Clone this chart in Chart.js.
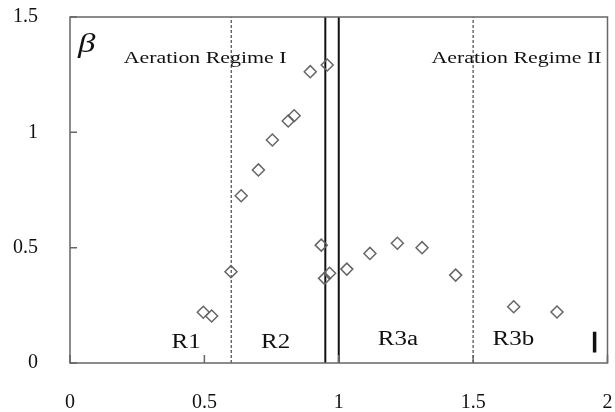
<!DOCTYPE html>
<html>
<head>
<meta charset="utf-8">
<script src="https://cdn.jsdelivr.net/npm/chart.js@4/dist/chart.umd.min.js"></script>
<style>
  html, body { margin: 0; padding: 0; background: #fff; }
  #wrap { width: 615px; height: 412px; }
</style>
</head>
<body>
<div id="wrap"><canvas id="beta_chart"></canvas></div>
<script>
// measured points (x, beta)
const xValues = [0.496, 0.527, 0.599, 0.637, 0.701, 0.753, 0.812, 0.834, 0.894, 0.957,
                 0.935, 0.947, 0.966, 1.030, 1.116, 1.218, 1.310, 1.435, 1.651, 1.812];
const betaValues = [0.220, 0.204, 0.396, 0.725, 0.837, 0.967, 1.049, 1.072, 1.263, 1.292,
                    0.511, 0.367, 0.389, 0.407, 0.475, 0.519, 0.500, 0.381, 0.244, 0.221];

// regime boundaries
const dashedBounds = [0.6, 1.5];
const solidBounds = [0.95, 1.0];

// typical error bar
const errX = 1.952;
const errRange = [0.045, 0.135];

const xTicks = [0, 0.5, 1, 1.5, 2];
const yTicks = [0, 0.5, 1, 1.5];

const regimeNames = ['Aeration Regime I', 'Aeration Regime II'];
const regionNames = ['R1', 'R2', 'R3a', 'R3b'];

const SERIF = '"Liberation Serif", "DejaVu Serif", serif';

const points = xValues.map(function(x, i) { return { x: x, y: betaValues[i] }; });

function vline(x, dashed) {
    return {
        type: 'line',
        data: [{ x: x, y: 0 }, { x: x, y: 1.5 }],
        borderColor: dashed ? '#555' : '#111',
        borderWidth: dashed ? 1.3 : 2,
        borderDash: dashed ? [3, 2] : [],
        pointRadius: 0,
        order: 2
    };
}

const datasets = [{
    type: 'scatter',
    data: points,
    pointStyle: 'rectRot',
    pointRadius: 6,
    borderColor: '#666',
    backgroundColor: 'rgba(0,0,0,0)',
    borderWidth: 1.5,
    order: 1
}];
dashedBounds.forEach(function(b) { datasets.push(vline(b, true)); });
solidBounds.forEach(function(b) { datasets.push(vline(b, false)); });
datasets.push({
    type: 'line',
    data: [{ x: errX, y: errRange[0] }, { x: errX, y: errRange[1] }],
    borderColor: '#111',
    borderWidth: 3.5,
    pointRadius: 0,
    order: 2
});

// frame, inward ticks and the text inside the plot
const framePlugin = {
    id: 'frame',
    afterDatasetsDraw(chart) {
        const ctx = chart.ctx;
        const a = chart.chartArea;
        const xs = chart.scales.x, ys = chart.scales.y;
        ctx.save();
        ctx.strokeStyle = '#666';
        ctx.lineWidth = 1.5;
        ctx.strokeRect(a.left, a.top, a.right - a.left, a.bottom - a.top);
        ctx.beginPath();
        xTicks.forEach(function(t) {
            const px = xs.getPixelForValue(t);
            ctx.moveTo(px, a.bottom);
            ctx.lineTo(px, a.bottom - 8);
        });
        yTicks.forEach(function(t) {
            const py = ys.getPixelForValue(t);
            ctx.moveTo(a.left, py);
            ctx.lineTo(a.left + 7, py);
        });
        ctx.stroke();

        function label(text, x, y, size, italic, align) {
            ctx.save();
            ctx.translate(xs.getPixelForValue(x), ys.getPixelForValue(y));
            ctx.scale(1.25, 1);
            ctx.font = (italic ? 'italic ' : '') + size + 'px ' + SERIF;
            ctx.fillStyle = '#111';
            ctx.textAlign = align;
            ctx.textBaseline = 'alphabetic';
            ctx.fillText(text, 0, 0);
            ctx.restore();
        }
        label('\u03b2', 0.03, 1.348, 28, true, 'left');
        label(regimeNames[0], 0.2, 1.3, 17.5, false, 'left');
        label(regimeNames[1], 1.345, 1.3, 17.5, false, 'left');
        label(regionNames[0], 0.432, 0.065, 20, false, 'center');
        label(regionNames[1], 0.765, 0.065, 20, false, 'center');
        label(regionNames[2], 1.22, 0.078, 20, false, 'center');
        label(regionNames[3], 1.65, 0.078, 20, false, 'center');
        ctx.restore();
    }
};

// let the end labels hang over the edges instead of shrinking the plot
function noEdgePadding(s) {
    s.paddingLeft = 0;
    s.paddingRight = 0;
    s.paddingTop = 0;
    s.paddingBottom = 0;
}

const ctx = document.getElementById('beta_chart');
new Chart(ctx, {
    data: { datasets: datasets },
    options: {
        responsive: true,
        maintainAspectRatio: false,
        animation: false,
        layout: { padding: { top: 17, right: 3, left: 0, bottom: 0 } },
        plugins: { legend: { display: false }, tooltip: { enabled: false } },
        scales: {
            x: {
                type: 'linear',
                min: 0, max: 2,
                afterBuildTicks: function(s) { s.ticks = xTicks.map(function(v) { return { value: v }; }); },
                afterFit: function(s) { s.height = 49; noEdgePadding(s); },
                grid: { display: false },
                border: { display: false },
                ticks: {
                    padding: 20, color: '#111', font: { family: SERIF, size: 20 },
                    callback: function(v) { return String(v); }
                }
            },
            y: {
                type: 'linear',
                min: 0, max: 1.5,
                afterBuildTicks: function(s) { s.ticks = yTicks.map(function(v) { return { value: v }; }); },
                afterFit: function(s) { s.width = 70; noEdgePadding(s); },
                grid: { display: false },
                border: { display: false },
                ticks: {
                    padding: 24, color: '#111', font: { family: SERIF, size: 20 },
                    callback: function(v) { return String(v); }
                }
            }
        }
    },
    plugins: [framePlugin]
});
</script>
</body>
</html>
